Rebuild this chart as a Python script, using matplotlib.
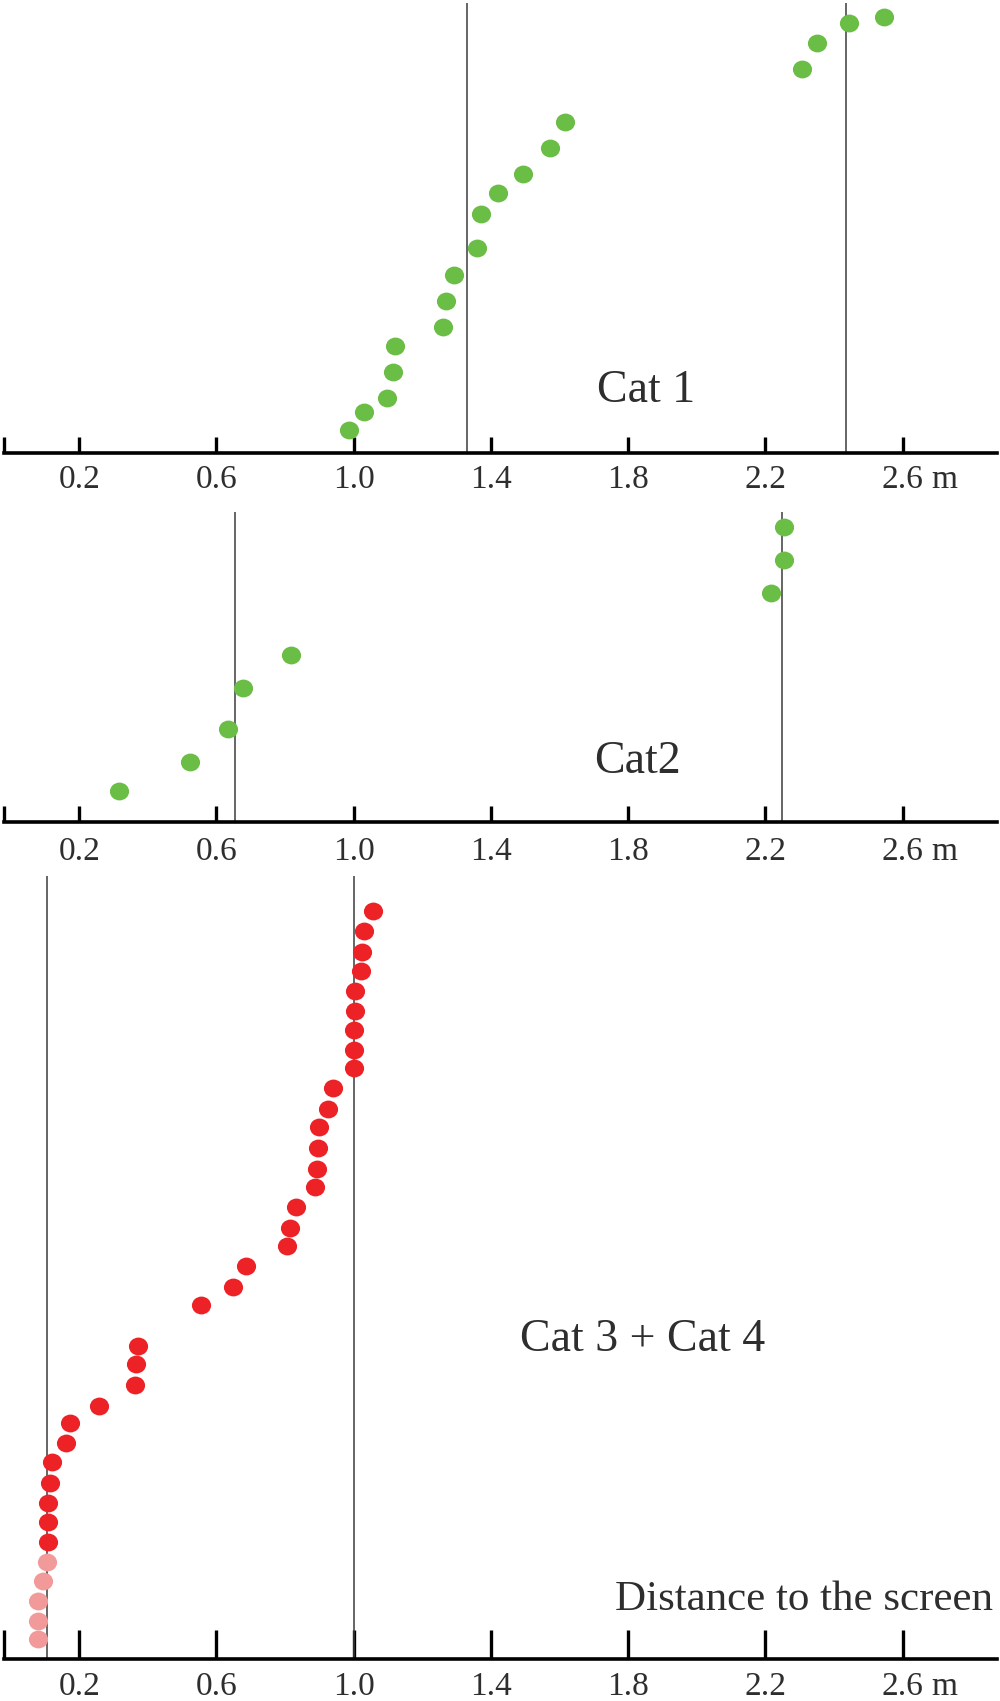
import matplotlib
matplotlib.use('Agg')
import matplotlib.pyplot as plt
from matplotlib.path import Path
from matplotlib.transforms import Affine2D

plt.rcParams['font.family'] = ['Liberation Serif', 'DejaVu Serif']

# ---------------- data (distance in m, height = stacking position, arbitrary units) ----
tick_values = [0.2, 0.6, 1.0, 1.4, 1.8, 2.2, 2.6]
tick_labels = ['0.2', '0.6', '1.0', '1.4', '1.8', '2.2', '2.6']
unit_label = 'm'

cat1_x = [0.986, 1.031, 1.096, 1.115, 1.121, 1.261, 1.268, 1.292, 1.360, 1.372,
          1.420, 1.494, 1.573, 1.617, 2.308, 2.352, 2.445, 2.547]
cat1_h = [2.3, 4.07, 5.5, 8.13, 10.7, 12.57, 15.17, 17.77, 20.47, 23.9,
          25.97, 27.93, 30.5, 33.1, 38.4, 40.97, 42.97, 43.57]
cat1_lines = [1.329, 2.434]

cat2_x = [0.316, 0.524, 0.634, 0.677, 0.817, 2.218, 2.254, 2.254]
cat2_h = [3.07, 5.97, 9.33, 13.37, 16.7, 22.87, 26.2, 29.47]
cat2_lines = [0.654, 2.250]

cat34_x = [1.055, 1.029, 1.025, 1.022, 1.003, 1.004, 1.001, 1.001, 1.001, 0.939,
           0.926, 0.900, 0.897, 0.892, 0.887, 0.832, 0.814, 0.806, 0.687, 0.649,
           0.554, 0.370, 0.365, 0.362, 0.258, 0.173, 0.161, 0.120, 0.115, 0.110,
           0.110, 0.110]
cat34_h = [74.86, 72.8, 70.76, 68.86, 66.83, 64.8, 62.93, 60.93, 59.1, 57.1,
           55.08, 53.2, 51.1, 49.03, 47.2, 45.2, 43.16, 41.36, 39.33, 37.26,
           35.4, 31.33, 29.5, 27.43, 25.38, 23.6, 21.6, 19.76, 17.66, 15.66,
           13.76, 11.76]
cat34_light_x = [0.105, 0.095, 0.080, 0.080, 0.080]
cat34_light_h = [9.7, 7.83, 5.83, 3.86, 2.0]
cat34_lines = [0.107, 1.002]

panel_titles = ['Cat 1', 'Cat2', 'Cat 3 + Cat 4']
axis_title = 'Distance to the screen'

# ---------------- styling ----------------
GREEN = '#6abd45'
RED = '#ec2226'
PINK = '#f29a9a'
TEXT = '#2e2e2e'
LINE = '#3c3c3c'

W, H = 1000, 1701
fig = plt.figure(figsize=(W / 100, H / 100), dpi=100)

ellipse = Path.unit_circle().transformed(Affine2D().scale(1.0, 0.93))

X0_PX, X1_PX = 3.5, 997.0
PX_PER_M = 343.0
ZERO_PX = 10.7
XMIN = (X0_PX - ZERO_PX) / PX_PER_M
XMAX = (X1_PX - ZERO_PX) / PX_PER_M
LABEL_SIZE = 24


def make_panel(top_px, bottom_px, ticklen, pad):
    ax = fig.add_axes([X0_PX / W, 1 - bottom_px / H, (X1_PX - X0_PX) / W,
                       (bottom_px - top_px) / H])
    ax.set_xlim(XMIN, XMAX)
    ax.set_ylim(0, (bottom_px - top_px) / 10.0)
    for s in ['top', 'left', 'right']:
        ax.spines[s].set_visible(False)
    ax.spines['bottom'].set_linewidth(2.6)
    ax.spines['bottom'].set_color('black')
    ax.set_yticks([])
    ax.set_xticks([XMIN] + tick_values)
    ax.set_xticklabels([''] + tick_labels)
    ax.tick_params(axis='x', direction='in', length=ticklen, width=2.4,
                   color='black', pad=pad, labelsize=LABEL_SIZE, labelcolor=TEXT)
    ax.annotate(unit_label, xy=(2.6, 0), xycoords=('data', 'axes fraction'),
                xytext=(21, -pad), textcoords='offset points',
                ha='left', va='top', fontsize=LABEL_SIZE, color=TEXT)
    ax.patch.set_alpha(0)
    return ax


def dots(ax, xs, hs, color):
    ax.scatter(xs, hs, s=13.8 ** 2, marker=ellipse, color=color,
               linewidths=0, zorder=3, clip_on=False)


# Panel 1
ax1 = make_panel(0, 453, 11.5, 8.5)
ax1.vlines(cat1_lines, 0, 45.0, color=LINE, lw=1.1, zorder=2)
dots(ax1, cat1_x, cat1_h, GREEN)

# Panel 2
ax2 = make_panel(500, 822, 11.5, 10.5)
ax2.vlines(cat2_lines, 0, 31.0, color=LINE, lw=1.1, zorder=2)
dots(ax2, cat2_x, cat2_h, GREEN)

# Panel 3
ax3 = make_panel(860, 1659.3, 21, 9)
ax3.vlines(cat34_lines, 0, 78.3, color=LINE, lw=1.1, zorder=2)
dots(ax3, cat34_x, cat34_h, RED)
dots(ax3, cat34_light_x, cat34_light_h, PINK)

# Labels
def ftext(xpx, ypx, s, size, ha='left'):
    fig.text(xpx / W, 1 - ypx / H, s, ha=ha, va='baseline', fontsize=size,
             color=TEXT)

ftext(597, 401.7, panel_titles[0], 33)
ftext(594, 773, panel_titles[1], 33)
ftext(519.5, 1350.7, panel_titles[2], 33)
ftext(993, 1610, axis_title, 31, ha='right')

fig.savefig('out.png', dpi=100)
